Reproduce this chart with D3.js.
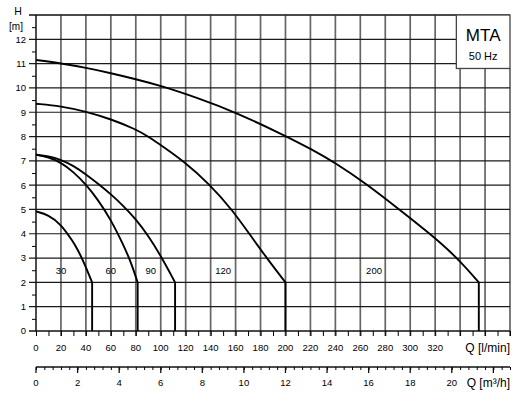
<!DOCTYPE html>
<html>
<head>
<meta charset="utf-8">
<script src="https://cdn.jsdelivr.net/npm/d3@7/dist/d3.min.js"></script>
<style>
  body { margin: 0; background: #fff; }
  svg { display: block; font-family: "Liberation Sans", Arial, sans-serif; }
</style>
</head>
<body>
<div id="chart"></div>
<script>
// pump curves: [Q l/min, H m], each ends at the knee (H = 2)
const curve30  = [[0, 4.92], [10, 4.78], [20, 4.4], [30, 3.65], [33, 3.38], [38, 2.88], [45, 2.0]];
const curve60  = [[0, 7.25], [10, 7.16], [20, 6.93], [30, 6.55], [40, 6.03], [50, 5.38], [60, 4.58], [70, 3.55], [76, 2.85], [81.5, 2.0]];
const curve90  = [[0, 7.25], [10, 7.2], [20, 7.05], [30, 6.8], [40, 6.45], [50, 6.05], [60, 5.63], [70, 5.15], [80, 4.6], [90, 3.92], [100, 3.1], [111.5, 2.0]];
const curve120 = [[0, 9.35], [20, 9.25], [40, 9.03], [60, 8.72], [80, 8.3], [90, 8.0], [100, 7.65], [118, 7.0], [139, 6.05], [157, 5.0], [171, 4.0], [185, 3.0], [200, 2.0]];
const curve200 = [[0, 11.15], [20, 11.01], [40, 10.83], [60, 10.61], [80, 10.36], [100, 10.09], [130, 9.58], [160, 9.0], [200, 8.03], [220, 7.5], [240, 6.92], [265, 6.05], [290, 5.05], [316, 4.0], [338, 3.0], [355, 2.0]];

const curves = [curve30, curve60, curve90, curve120, curve200];
const curveNames = ["30", "60", "90", "120", "200"];
const labelQ = [20, 60, 92, 150, 271];
const labelH = 2.5;

const qTickLabels = [0, 20, 40, 60, 80, 100, 120, 140, 160, 180, 200, 220, 240, 260, 280, 300, 320];
const m3TickLabels = [0, 2, 4, 6, 8, 10, 12, 14, 16, 18, 20];
const hTickLabels = [0, 1, 2, 3, 4, 5, 6, 7, 8, 9, 10, 11, 12];

const W = 524, H = 397;
const margin = { top: 15, right: 14, bottom: 66, left: 36 };
const innerW = W - margin.left - margin.right;
const innerH = H - margin.top - margin.bottom;

const svg = d3.select("#chart").append("svg")
    .attr("width", W)
    .attr("height", H);

const x = d3.scaleLinear().domain([0, 380]).range([margin.left, margin.left + innerW]);
const y = d3.scaleLinear().domain([0, 13]).range([margin.top + innerH, margin.top]);
// m3/h scale: 1 m3/h = 1000/60 l/min
const x2 = d3.scaleLinear().domain([0, 380 * 0.06]).range(x.range());

const y0 = y(0), yTop = y(13), xL = x(0), xR = x(380);

// box in the upper right corner
const boxQ = 337, boxH = 10.8;

// vertical grid every 20 l/min
const grid = svg.append("g");
grid.selectAll(".vgrid")
    .data(d3.range(20, 381, 20))
    .enter().append("line")
    .attr("class", "vgrid")
    .attr("x1", d => x(d)).attr("x2", d => x(d))
    .attr("y1", d => d > boxQ ? y(boxH) : yTop)
    .attr("y2", y0 + 5)
    .attr("stroke", "#666")
    .attr("stroke-width", 1.7);

// horizontal grid every 1 m
grid.selectAll(".hgrid")
    .data(d3.range(1, 14))
    .enter().append("line")
    .attr("class", "hgrid")
    .attr("x1", xL - 7)
    .attr("x2", d => d > boxH ? x(boxQ) : xR)
    .attr("y1", d => y(d)).attr("y2", d => y(d))
    .attr("stroke", "#1a1a1a")
    .attr("stroke-width", 1.2);

// top border over full width
svg.append("line")
    .attr("x1", xL - 7).attr("x2", xR)
    .attr("y1", yTop).attr("y2", yTop)
    .attr("stroke", "#333").attr("stroke-width", 1.5);

// MTA box
svg.append("rect")
    .attr("x", x(boxQ)).attr("y", yTop)
    .attr("width", xR - x(boxQ)).attr("height", y(boxH) - yTop)
    .attr("fill", "#fff")
    .attr("stroke", "#444")
    .attr("stroke-width", 1.3);
svg.append("text")
    .attr("x", (x(boxQ) + xR) / 2).attr("y", yTop + 26)
    .attr("text-anchor", "middle")
    .style("font-size", "17px")
    .text("MTA");
svg.append("text")
    .attr("x", (x(boxQ) + xR) / 2).attr("y", yTop + 45)
    .attr("text-anchor", "middle")
    .style("font-size", "11px")
    .text("50 Hz");

// y axis with half-metre minor ticks
const yAxis = d3.axisLeft(y)
    .tickValues(d3.range(0.5, 13, 1))
    .tickSize(4)
    .tickFormat("");
svg.append("g")
    .attr("transform", `translate(${xL},0)`)
    .call(yAxis)
    .call(g => g.selectAll(".domain").remove());
svg.append("line")
    .attr("x1", xL).attr("x2", xL).attr("y1", yTop).attr("y2", y0)
    .attr("stroke", "#111").attr("stroke-width", 1.5);

svg.append("g").selectAll("text")
    .data(hTickLabels)
    .enter().append("text")
    .attr("x", xL - 10)
    .attr("y", d => y(d) + 3.4)
    .attr("text-anchor", "end")
    .style("font-size", "9.5px")
    .text(d => d);

svg.append("text").attr("x", 18).attr("y", 15).attr("text-anchor", "middle")
    .style("font-size", "10.5px").text("H");
svg.append("text").attr("x", 16).attr("y", 30).attr("text-anchor", "middle")
    .style("font-size", "10px").text("[m]");

// bottom l/min axis
const xAxis = d3.axisBottom(x)
    .tickValues(d3.range(0, 381, 10))
    .tickSize(5)
    .tickFormat("");
svg.append("g")
    .attr("transform", `translate(0,${y0})`)
    .call(xAxis)
    .call(g => g.select(".domain").attr("stroke", "#111").attr("stroke-width", 1.5).attr("d", `M${xL - 7},0H${xR}`));

svg.append("g").selectAll("text")
    .data(qTickLabels)
    .enter().append("text")
    .attr("x", d => x(d))
    .attr("y", y0 + 20)
    .attr("text-anchor", "middle")
    .style("font-size", "9.5px")
    .text(d => d);
svg.append("text")
    .attr("x", xR).attr("y", y0 + 21)
    .attr("text-anchor", "end")
    .style("font-size", "12px")
    .text("Q [l/min]");

// second axis in m3/h
const axis2Y = y0 + 36;
const x2Axis = d3.axisBottom(x2)
    .tickValues(d3.range(0, 22.81, 0.4))
    .tickSize(3)
    .tickFormat("");
const g2 = svg.append("g")
    .attr("transform", `translate(0,${axis2Y})`)
    .call(x2Axis);
g2.select(".domain").attr("stroke", "#111").attr("stroke-width", 1.3).attr("d", `M${xL},0H${xR}`);
g2.selectAll(".major")
    .data(d3.range(0, 23, 2))
    .enter().append("line")
    .attr("class", "major")
    .attr("x1", d => x2(d)).attr("x2", d => x2(d))
    .attr("y1", 0).attr("y2", 6)
    .attr("stroke", "#111").attr("stroke-width", 1.3);

svg.append("g").selectAll("text")
    .data(m3TickLabels)
    .enter().append("text")
    .attr("x", d => x2(d))
    .attr("y", axis2Y + 19)
    .attr("text-anchor", "middle")
    .style("font-size", "9.5px")
    .text(d => d);
svg.append("text")
    .attr("x", xR).attr("y", axis2Y + 20)
    .attr("text-anchor", "end")
    .style("font-size", "12px")
    .text("Q [m³/h]");

// pump curves: smoothed part, then straight down to H = 0 at the knee
const line = d3.line()
    .x(d => x(d[0]))
    .y(d => y(d[1]))
    .curve(d3.curveBasis);

svg.append("g").selectAll("path")
    .data(curves)
    .enter().append("path")
    .attr("d", c => {
        const last = c[c.length - 1];
        return line(c) + `L${x(last[0])},${y(0)}`;
    })
    .attr("fill", "none")
    .attr("stroke", "#000")
    .attr("stroke-width", 1.9);

svg.append("g").selectAll("text")
    .data(curveNames)
    .enter().append("text")
    .attr("x", (d, i) => x(labelQ[i]))
    .attr("y", y(labelH) + 3.4)
    .attr("text-anchor", "middle")
    .style("font-size", "9.5px")
    .text(d => d);
</script>
</body>
</html>
